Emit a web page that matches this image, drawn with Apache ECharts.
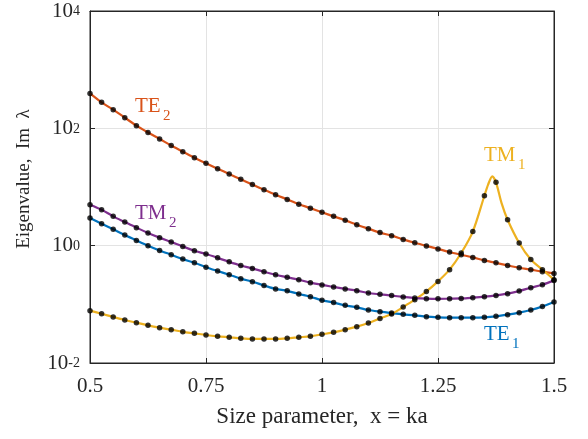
<!DOCTYPE html>
<html>
<head>
    <meta charset="utf-8">
    <title>Eigenvalue chart</title>
    <script src="https://cdn.jsdelivr.net/npm/echarts@6/dist/echarts.min.js"></script>
    <style>
        html, body { margin: 0; padding: 0; background: #fff; }
    </style>
</head>
<body>
<div id="main" style="width: 588px;height:439px;"></div>
<script type="text/javascript">
// size parameter x = ka (sample points, marked with dots)
var xs = [0.5, 0.525, 0.55, 0.575, 0.6, 0.625, 0.65, 0.675, 0.7, 0.725,
          0.75, 0.775, 0.8, 0.825, 0.85, 0.875, 0.9, 0.925, 0.95, 0.975,
          1.0, 1.025, 1.05, 1.075, 1.1, 1.125, 1.15, 1.175, 1.2, 1.225,
          1.25, 1.275, 1.3, 1.325, 1.35, 1.375, 1.4, 1.425, 1.45, 1.475, 1.5];

var te2 = [394, 277, 208, 152, 111, 85, 66, 51, 40, 31.6,
           25.3, 20.5, 16.7, 13.5, 11.0, 9.0, 7.4, 6.15, 5.1, 4.36,
           3.7, 3.16, 2.7, 2.28, 1.95, 1.67, 1.48, 1.28, 1.12, 0.99,
           0.88, 0.78, 0.70, 0.63, 0.56, 0.51, 0.46, 0.42, 0.39, 0.36, 0.337];

var tm2 = [5.0, 4.1, 3.16, 2.53, 2.03, 1.65, 1.37, 1.16, 0.97, 0.82,
           0.72, 0.62, 0.53, 0.46, 0.41, 0.36, 0.32, 0.29, 0.262, 0.234,
           0.214, 0.198, 0.183, 0.171, 0.156, 0.148, 0.141, 0.134, 0.128, 0.125,
           0.124, 0.125, 0.126, 0.130, 0.135, 0.142, 0.152, 0.169, 0.192, 0.216, 0.256];

var te1 = [2.97, 2.37, 1.90, 1.52, 1.23, 1.0, 0.83, 0.70, 0.59, 0.51,
           0.43, 0.37, 0.32, 0.274, 0.243, 0.21, 0.183, 0.17, 0.15, 0.135,
           0.117, 0.107, 0.096, 0.089, 0.080, 0.075, 0.071, 0.0675, 0.065, 0.0616,
           0.060, 0.0593, 0.0593, 0.0593, 0.060, 0.0624, 0.0667, 0.0722, 0.080, 0.092, 0.110];

var tm1 = [0.078, 0.069, 0.061, 0.054, 0.0487, 0.0438, 0.040, 0.037, 0.034, 0.032,
           0.030, 0.0285, 0.0274, 0.0263, 0.0257, 0.0257, 0.0257, 0.0263, 0.0274, 0.0285,
           0.0308, 0.0333, 0.037, 0.0416, 0.048, 0.0576, 0.0685, 0.090, 0.120, 0.166,
           0.246, 0.39, 0.75, 1.74, 7.1, 12, 2.77, 1.11, 0.58, 0.39, 0.263];

var tm1PeakX = [1.358, 1.367, 1.387];
var tm1PeakY = [11, 15.2, 5.3];

var xTicks = [0.5, 0.75, 1, 1.25, 1.5];

var colors = {te1: '#0072BD', te2: '#D95319', tm1: '#EDB120', tm2: '#7E2F8E'};
var axisColor = '#262626';
var font = '"Liberation Serif", "Times New Roman", serif';

function pairs(x, y) {
    return x.map(function (v, i) { return [v, y[i]]; });
}

var tm1Line = pairs(xs, tm1).concat(pairs(tm1PeakX, tm1PeakY)).sort(function (a, b) { return a[0] - b[0]; });

function lineSeries(name, data, color) {
    return {
        name: name, type: 'line', data: data, showSymbol: false, smooth: 0.3,
        lineStyle: {color: color, width: 2.2}, z: 2, silent: true
    };
}
function dotSeries(name, data) {
    return {
        name: name, type: 'scatter', data: data, symbol: 'circle', symbolSize: 5.5,
        itemStyle: {color: '#000'}, z: 3, silent: true
    };
}

// series label: main text plus a subscript
function seriesLabel(main, sub, x, y, subDx, color) {
    return [
        {type: 'text', left: x, top: y, style: {text: main, fontSize: 21, fontFamily: font, fill: color}},
        {type: 'text', left: x + subDx, top: y + 13, style: {text: sub, fontSize: 15, fontFamily: font, fill: color}}
    ];
}

var myChart = echarts.init(document.getElementById('main'));

var option = {
    animation: false,
    textStyle: {fontFamily: font},
    grid: {left: 90, right: 34, top: 11, bottom: 76, show: true, borderColor: axisColor, borderWidth: 1,
           outerBoundsMode: 'none', containLabel: false},
    xAxis: [{
        type: 'value', min: 0.5, max: 1.5, interval: 0.25,
        name: 'Size parameter,  x = ka', nameLocation: 'middle', nameGap: 42,
        nameTextStyle: {fontSize: 23, color: axisColor, fontFamily: font},
        axisLine: {lineStyle: {color: axisColor}},
        axisTick: {inside: true, length: 5, lineStyle: {color: axisColor}},
        axisLabel: {fontSize: 21, color: axisColor, margin: 13, fontFamily: font,
            formatter: function (v) { return xTicks.indexOf(v) >= 0 ? String(v) : ''; }},
        splitLine: {show: true, lineStyle: {color: '#e3e3e3'}}
    }, {
        type: 'value', min: 0.5, max: 1.5, interval: 0.25, position: 'top',
        axisLine: {show: true, lineStyle: {color: axisColor}},
        axisTick: {inside: true, length: 5, lineStyle: {color: axisColor}},
        axisLabel: {show: false}, splitLine: {show: false}
    }],
    yAxis: [{
        type: 'log', logBase: 10, min: 0.01, max: 10000, interval: 2,
        axisLine: {show: true, lineStyle: {color: axisColor}},
        axisTick: {inside: true, length: 5, lineStyle: {color: axisColor}},
        minorTick: {show: false},
        axisLabel: {
            margin: 10, color: axisColor, fontFamily: font,
            formatter: function (v) {
                var e = Math.round(Math.log10(v));
                return '{b|10}{s|' + (e < 0 ? '-' + (-e) : e) + '}';
            },
            rich: {
                b: {fontSize: 21, lineHeight: 21, padding: [7, 0, 0, 0], verticalAlign: 'bottom', color: axisColor, fontFamily: font},
                s: {fontSize: 14, lineHeight: 14, padding: [4, 0, 0, 0], verticalAlign: 'top', color: axisColor, fontFamily: font}
            }
        },
        splitLine: {show: true, lineStyle: {color: '#e3e3e3'}}
    }, {
        type: 'log', logBase: 10, min: 0.01, max: 10000, interval: 2, position: 'right',
        axisLine: {show: true, lineStyle: {color: axisColor}},
        axisTick: {inside: true, length: 5, lineStyle: {color: axisColor}},
        axisLabel: {show: false}, splitLine: {show: false}
    }],
    series: [
        lineSeries('TE1', pairs(xs, te1), colors.te1),
        lineSeries('TE2', pairs(xs, te2), colors.te2),
        lineSeries('TM1', tm1Line, colors.tm1),
        lineSeries('TM2', pairs(xs, tm2), colors.tm2),
        dotSeries('TE1 pts', pairs(xs, te1)),
        dotSeries('TE2 pts', pairs(xs, te2)),
        dotSeries('TM1 pts', pairs(xs, tm1)),
        dotSeries('TM2 pts', pairs(xs, tm2))
    ],
    graphic: [].concat(
        seriesLabel('TE', '2', 135, 96, 28, colors.te2),
        seriesLabel('TM', '2', 135, 203, 34, colors.tm2),
        seriesLabel('TM', '1', 484, 145, 34, colors.tm1),
        seriesLabel('TE', '1', 484, 324, 28, colors.te1),
        [{
            type: 'text', x: 24, y: 179, rotation: Math.PI / 2,
            style: {text: 'Eigenvalue,  Im  λ', fontSize: 19, fontFamily: font, fill: axisColor,
                    align: 'center', verticalAlign: 'middle'}
        }]
    )
};

myChart.setOption(option);
</script>
</body>
</html>
